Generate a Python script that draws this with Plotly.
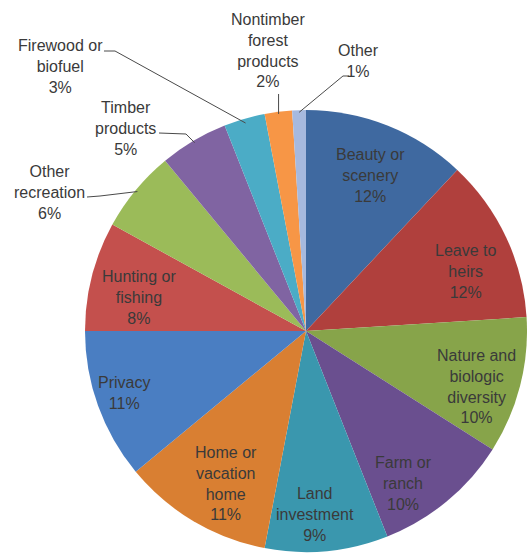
import numpy as np
import plotly.graph_objects as go

# Reasons for owning forest land, share of owners (%), clockwise from 12 o'clock
categories = [
    "Beauty or<br>scenery",
    "Leave to<br>heirs",
    "Nature and<br>biologic<br>diversity",
    "Farm or<br>ranch",
    "Land<br>investment",
    "Home or<br>vacation<br>home",
    "Privacy",
    "Hunting or<br>fishing",
    "Other<br>recreation",
    "Timber<br>products",
    "Firewood or<br>biofuel",
    "Nontimber<br>forest<br>products",
    "Other",
]
shares = [12, 12, 10, 10, 9, 11, 11, 8, 6, 5, 3, 2, 1]

slice_colors = [
    "#3f69a0", "#b0403d", "#87a44a", "#6a4f8f", "#3a97ae", "#d97f32",
    "#4a7ec2", "#c4504d", "#9bbb59", "#8064a2", "#4bacc6", "#f79646",
    "#a6b9de",
]

# Canvas and pie geometry (pixels)
W, H = 527, 556
CX, CY, R = 306, 331, 221

FONT = dict(family="Liberation Sans, Arial, sans-serif", size=16, color="#3a3a3a")

# Inside labels: (angle nudge in degrees, distance from centre as fraction of radius)
inside_place = {
    0: (0.8, 0.76),
    1: (4.6, 0.77),
    2: (3.8, 0.81),
    3: (6.9, 0.82),
    4: (2.6, 0.83),
    5: (-2.9, 0.78),
    6: (0.9, 0.87),
    7: (-3.1, 0.77),
}

# Outside labels: text centre and leader-line points (pixels); the leader ends on the slice edge
outside_place = {
    8: dict(center=(49, 192), leader=[(87, 197), (100, 196)], edge=0.99),
    9: dict(center=(125, 128), leader=[(159, 133), (186, 134)], edge=0.99),
    10: dict(center=(60, 66), leader=[(104, 51), (115, 51)], edge=0.98),
    11: dict(center=(268, 50), leader=None, edge=0.99),
    12: dict(center=(358, 61), leader=[(349, 76), (343, 76)], edge=0.99),
}


def px(x, y):
    return x / W, 1 - y / H


vals = np.array(shares, dtype=float)
start = np.cumsum(vals) - vals
mid_deg = (start + vals / 2) / vals.sum() * 360.0


def polar(theta_deg, frac):
    t = np.deg2rad(theta_deg)
    return CX + frac * R * np.sin(t), CY - frac * R * np.cos(t)


fig = go.Figure(
    go.Pie(
        labels=categories,
        values=shares,
        sort=False,
        direction="clockwise",
        rotation=0,
        marker=dict(colors=slice_colors, line=dict(width=0)),
        textinfo="none",
        hovertemplate="%{label}: %{value}%<extra></extra>",
        domain=dict(x=[(CX - R) / W, (CX + R) / W], y=[1 - (CY + R) / H, 1 - (CY - R) / H]),
        showlegend=False,
    )
)

annotations = []
shapes = []
for i, (name, share) in enumerate(zip(categories, shares)):
    text = f"{name}<br>{share}%"
    if i in inside_place:
        nudge, frac = inside_place[i]
        x, y = polar(mid_deg[i] + nudge, frac)
    else:
        spec = outside_place[i]
        x, y = spec["center"]
        ex, ey = polar(mid_deg[i], spec["edge"])
        if spec["leader"] is None:
            pts = [(ex, y + 44), (ex, ey)]
        else:
            pts = list(spec["leader"]) + [(ex, ey)]
        path = ""
        for k, (lx, ly) in enumerate(pts):
            u, v = px(lx, ly)
            path += ("M" if k == 0 else " L") + f" {u:.5f},{v:.5f}"
        shapes.append(dict(type="path", xref="paper", yref="paper", path=path,
                           line=dict(color="#4a4a4a", width=1)))
    u, v = px(x, y)
    annotations.append(dict(x=u, y=v, xref="paper", yref="paper", text=text,
                            showarrow=False, align="center", font=FONT,
                            xanchor="center", yanchor="middle"))

fig.update_layout(
    width=W,
    height=H,
    margin=dict(l=0, r=0, t=0, b=0),
    paper_bgcolor="white",
    plot_bgcolor="white",
    annotations=annotations,
    shapes=shapes,
)

fig.write_html("out.html")
